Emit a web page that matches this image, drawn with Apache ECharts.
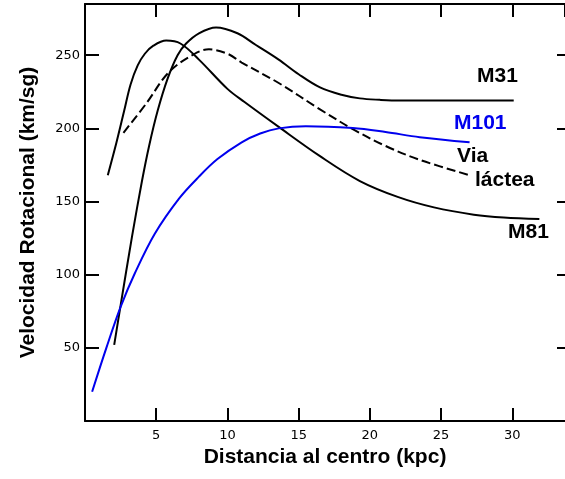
<!DOCTYPE html>
<html>
<head>
<meta charset="utf-8">
<script src="https://cdn.jsdelivr.net/npm/echarts@6/dist/echarts.min.js"></script>
<style>
  html, body { margin: 0; padding: 0; background: #fff; }
  #panel { width: 565px; height: 479px; }
</style>
</head>
<body>
<div id="panel"></div>
<script>
// distancia (kpc) y velocidad (km/sg)
var m31X = [2.05, 2.5, 3.3, 4.0, 4.5, 5.1, 5.8, 6.5, 7.1, 8.0, 9.2, 10.7, 12.0, 13.6, 15.0, 16.5, 18.0, 19.3, 20.7, 22.1, 26.0, 30.1];
var m31Y = [52, 79, 126, 164, 188, 212, 234, 250, 258, 265, 269, 265, 257, 247, 237, 228, 223, 220.5, 219.5, 219, 219, 219];

var m81X = [1.6, 2.2, 2.75, 3.2, 3.7, 4.2, 4.8, 5.7, 6.7, 8.0, 10.0, 11.2, 13.6, 16.5, 19.3, 22.0, 24.5, 27.3, 29.4, 31.9];
var m81Y = [168, 190, 212, 230, 243, 251, 256.5, 260, 258, 247, 227, 218, 201, 181, 164, 153, 146, 141, 139, 138];

var viaX = [2.7, 4.3, 5.9, 7.7, 8.7, 10.0, 11.0, 13.6, 16.5, 18.8, 21.1, 23.5, 27.0];
var viaY = [197, 217, 238.5, 251, 254, 251, 245, 231, 213, 199.5, 188, 178.5, 168];

var m101X = [0.5, 1.5, 2.5, 3.5, 4.9, 6.6, 8.0, 9.3, 11.0, 12.3, 13.6, 15.5, 18.8, 21.1, 23.5, 27.0];
var m101Y = [20, 50, 78, 101, 128, 152, 167, 179, 190.5, 196.5, 200, 201.5, 200.2, 197.5, 194, 190.5];

var xTicks = [5, 10, 15, 20, 25, 30];
var yTicks = [50, 100, 150, 200, 250];

function pairs(xs, ys) {
  return xs.map(function (x, i) { return [x, ys[i]]; });
}

var tickFont = { fontFamily: 'DejaVu Sans', fontSize: 13, color: '#000' };
var axisStroke = { color: '#000', width: 2 };

var myChart = echarts.init(document.getElementById('panel'));
myChart.setOption({
  backgroundColor: '#fff',
  animation: false,
  grid: { left: 85, right: 0, top: 4, bottom: 58 },
  xAxis: [{
    type: 'value', min: 0, max: 33.7, interval: 5,
    position: 'bottom',
    name: 'Distancia al centro (kpc)', nameLocation: 'middle', nameGap: 26,
    nameTextStyle: { fontFamily: 'Liberation Sans', fontWeight: 'bold', fontSize: 21, color: '#000' },
    axisLine: { onZero: false, lineStyle: axisStroke },
    axisTick: { inside: true, length: 13, lineStyle: axisStroke },
    axisLabel: Object.assign({ margin: 8, showMinLabel: false, showMaxLabel: false,
      formatter: function (v) { return xTicks.indexOf(v) >= 0 ? v : ''; } }, tickFont),
    splitLine: { show: false }
  }, {
    type: 'value', min: 0, max: 33.7, interval: 5,
    position: 'top',
    axisLine: { onZero: false, lineStyle: axisStroke },
    axisTick: { inside: true, length: 13, lineStyle: axisStroke },
    axisLabel: { show: false },
    splitLine: { show: false }
  }],
  yAxis: [{
    type: 'value', min: 0, max: 285, interval: 50,
    position: 'left',
    name: 'Velocidad Rotacional (km/sg)', nameLocation: 'middle', nameGap: 46,
    nameTextStyle: { fontFamily: 'Liberation Sans', fontWeight: 'bold', fontSize: 21, color: '#000' },
    axisLine: { onZero: false, lineStyle: axisStroke },
    axisTick: { inside: true, length: 14, lineStyle: axisStroke },
    axisLabel: Object.assign({ margin: 5, showMinLabel: false,
      formatter: function (v) { return yTicks.indexOf(v) >= 0 ? v : ''; } }, tickFont),
    splitLine: { show: false }
  }, {
    type: 'value', min: 0, max: 285, interval: 50,
    position: 'right',
    axisLine: { show: false, onZero: false },
    axisTick: { show: true, inside: true, length: 8, lineStyle: axisStroke },
    axisLabel: { show: false },
    splitLine: { show: false }
  }],
  series: [{
    name: 'M31', type: 'line', smooth: 0.35, symbol: 'none',
    lineStyle: { color: '#000', width: 2 },
    data: pairs(m31X, m31Y)
  }, {
    name: 'M81', type: 'line', smooth: 0.35, symbol: 'none',
    lineStyle: { color: '#000', width: 2 },
    data: pairs(m81X, m81Y)
  }, {
    name: 'Via láctea', type: 'line', smooth: 0.35, symbol: 'none',
    lineStyle: { color: '#000', width: 2, type: [9, 4] },
    data: pairs(viaX, viaY)
  }, {
    name: 'M101', type: 'line', smooth: 0.35, symbol: 'none',
    lineStyle: { color: '#0000ee', width: 2 },
    data: pairs(m101X, m101Y)
  }],
  graphic: [
    { type: 'text', left: 477, top: 66, style: { text: 'M31', font: 'bold 21px "Liberation Sans"', fill: '#000' } },
    { type: 'text', left: 454, top: 113, style: { text: 'M101', font: 'bold 21px "Liberation Sans"', fill: '#0000ee' } },
    { type: 'text', left: 457, top: 146, style: { text: 'Via', font: 'bold 21px "Liberation Sans"', fill: '#000' } },
    { type: 'text', left: 475, top: 170, style: { text: 'láctea', font: 'bold 21px "Liberation Sans"', fill: '#000' } },
    { type: 'text', left: 508, top: 222, style: { text: 'M81', font: 'bold 21px "Liberation Sans"', fill: '#000' } }
  ]
});
</script>
</body>
</html>
